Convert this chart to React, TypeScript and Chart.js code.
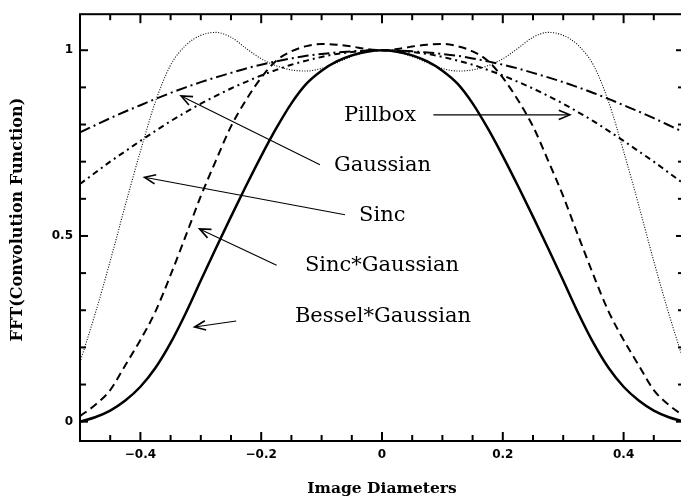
import { useEffect, useRef } from 'react';
import { Chart, registerables } from 'chart.js';
Chart.register(...registerables);

const xValues = [-0.5, -0.475, -0.45, -0.425, -0.4, -0.375, -0.35, -0.325, -0.3, -0.275, -0.25, -0.225, -0.2, -0.175, -0.15, -0.125, -0.1, -0.075, -0.05, -0.025, 0, 0.025, 0.05, 0.075, 0.1, 0.125, 0.15, 0.175, 0.2, 0.225, 0.25, 0.275, 0.3, 0.325, 0.35, 0.375, 0.4, 0.425, 0.45, 0.475, 0.5];

const pillbox = [0.64, 0.67, 0.7, 0.728, 0.756, 0.783, 0.809, 0.833, 0.856, 0.877, 0.897, 0.915, 0.932, 0.947, 0.961, 0.972, 0.982, 0.99, 0.995, 0.999, 1.0, 0.999, 0.995, 0.99, 0.982, 0.972, 0.961, 0.947, 0.932, 0.915, 0.897, 0.877, 0.856, 0.833, 0.809, 0.783, 0.756, 0.728, 0.7, 0.67, 0.64];

const gaussian = [0.779, 0.798, 0.817, 0.835, 0.852, 0.869, 0.885, 0.9, 0.914, 0.927, 0.939, 0.951, 0.961, 0.97, 0.978, 0.985, 0.99, 0.994, 0.997, 0.999, 1.0, 0.999, 0.997, 0.994, 0.99, 0.985, 0.978, 0.97, 0.961, 0.951, 0.939, 0.927, 0.914, 0.9, 0.885, 0.869, 0.852, 0.835, 0.817, 0.798, 0.779];

const sinc = [0.16, 0.29, 0.432, 0.583, 0.728, 0.862, 0.96, 1.013, 1.04, 1.048, 1.035, 1.005, 0.977, 0.958, 0.947, 0.944, 0.951, 0.966, 0.983, 0.995, 1.0, 0.995, 0.983, 0.966, 0.951, 0.944, 0.947, 0.958, 0.977, 1.005, 1.035, 1.048, 1.04, 1.013, 0.96, 0.862, 0.728, 0.583, 0.432, 0.29, 0.16];

const sincGaussian = [0.015, 0.045, 0.085, 0.152, 0.22, 0.297, 0.395, 0.5, 0.607, 0.703, 0.795, 0.866, 0.926, 0.972, 0.997, 1.011, 1.017, 1.015, 1.01, 1.003, 1.0, 1.003, 1.01, 1.015, 1.017, 1.011, 0.997, 0.972, 0.926, 0.866, 0.795, 0.703, 0.607, 0.5, 0.395, 0.297, 0.22, 0.152, 0.085, 0.045, 0.015];

const besselGaussian = [0.0, 0.012, 0.03, 0.057, 0.094, 0.145, 0.212, 0.292, 0.38, 0.467, 0.552, 0.635, 0.715, 0.79, 0.857, 0.91, 0.945, 0.97, 0.986, 0.996, 1.0, 0.996, 0.986, 0.97, 0.945, 0.91, 0.857, 0.79, 0.715, 0.635, 0.552, 0.467, 0.38, 0.292, 0.212, 0.145, 0.094, 0.057, 0.03, 0.012, 0.0];

const xMajorTicks = [-0.4, -0.2, 0, 0.2, 0.4];
const xMinorTicks = [-0.45, -0.35, -0.3, -0.25, -0.15, -0.1, -0.05, 0.05, 0.1, 0.15, 0.25, 0.3, 0.35, 0.45];
const yMajorTicks = [0, 0.5, 1];
const yMinorTicks = [0.1, 0.2, 0.3, 0.4, 0.6, 0.7, 0.8, 0.9];

const xTitle = 'Image Diameters';
const yTitle = 'FFT(Convolution Function)';

// annotation labels: text anchor (left, baseline) and arrow from -> tip, in data coordinates
const annotations = [
  { text: 'Pillbox', tx: -0.063, ty: 0.81, fx: 0.085, fy: 0.826, ax: 0.311, ay: 0.826 },
  { text: 'Gaussian', tx: -0.0795, ty: 0.676, fx: -0.1027, fy: 0.692, ax: -0.3326, ay: 0.877 },
  { text: 'Sinc', tx: -0.038, ty: 0.539, fx: -0.0613, fy: 0.557, ax: -0.3932, ay: 0.658 },
  { text: 'Sinc*Gaussian', tx: -0.1276, ty: 0.405, fx: -0.1745, fy: 0.421, ax: -0.3021, ay: 0.519 },
  { text: 'Bessel*Gaussian', tx: -0.1442, ty: 0.268, fx: -0.2414, fy: 0.271, ax: -0.3103, ay: 0.255 },
];

const toPoints = (ys: number[]) => xValues.map((x, i) => ({ x, y: ys[i] }));

const fmt = (v: number) => {
  if (v === 0) return '0';
  return v < 0 ? '\u2212' + String(Math.abs(v)) : String(v);
};

const framePlugin = {
  id: 'frameTicks',
  afterDatasetsDraw(chart: any) {
    const { ctx, chartArea, scales } = chart;
    const { left, right, top, bottom } = chartArea;
    const x = scales.x;
    const y = scales.y;
    ctx.save();
    ctx.strokeStyle = '#000';
    ctx.lineWidth = 2;
    ctx.lineCap = 'butt';
    ctx.strokeRect(left, top, right - left, bottom - top);
    const seg = (x1: number, y1: number, x2: number, y2: number) => {
      ctx.beginPath();
      ctx.moveTo(x1, y1);
      ctx.lineTo(x2, y2);
      ctx.stroke();
    };
    const xt = (v: number, len: number) => {
      const p = x.getPixelForValue(v);
      seg(p, bottom, p, bottom - len);
      seg(p, top, p, top + len);
    };
    const yt = (v: number, len: number) => {
      const p = y.getPixelForValue(v);
      seg(left, p, left + len, p);
      seg(right, p, right - len, p);
    };
    xMajorTicks.forEach((v) => xt(v, 9));
    xMinorTicks.forEach((v) => xt(v, 6));
    yMajorTicks.forEach((v) => yt(v, 8));
    yMinorTicks.forEach((v) => yt(v, 6));

    // y axis title
    ctx.fillStyle = '#000';
    ctx.save();
    ctx.translate(18, (top + bottom) / 2 - 8);
    ctx.rotate(-Math.PI / 2);
    ctx.font = 'bold 16px "DejaVu Serif"';
    ctx.textAlign = 'center';
    ctx.textBaseline = 'middle';
    ctx.fillText(yTitle, 0, 0);
    ctx.restore();

    // annotations
    ctx.font = '21px "DejaVu Serif"';
    ctx.textAlign = 'left';
    ctx.textBaseline = 'alphabetic';
    annotations.forEach((a) => {
      ctx.fillText(a.text, x.getPixelForValue(a.tx), y.getPixelForValue(a.ty));
      const x1 = x.getPixelForValue(a.fx);
      const y1 = y.getPixelForValue(a.fy);
      const x2 = x.getPixelForValue(a.ax);
      const y2 = y.getPixelForValue(a.ay);
      ctx.lineWidth = 1.1;
      seg(x1, y1, x2, y2);
      const ang = Math.atan2(y1 - y2, x1 - x2);
      const hl = 12;
      const spread = 0.4;
      ctx.lineWidth = 1.6;
      ctx.beginPath();
      ctx.moveTo(x2 + hl * Math.cos(ang + spread), y2 + hl * Math.sin(ang + spread));
      ctx.lineTo(x2, y2);
      ctx.lineTo(x2 + hl * Math.cos(ang - spread), y2 + hl * Math.sin(ang - spread));
      ctx.stroke();
    });
    ctx.restore();
  },
};

export default function App() {
  const ref = useRef<HTMLCanvasElement>(null);
  useEffect(() => {
    const common = {
      borderColor: '#000',
      backgroundColor: '#000',
      pointRadius: 0,
      fill: false,
      cubicInterpolationMode: 'monotone' as const,
    };
    const tickFont = { family: '"DejaVu Sans", sans-serif', size: 12, weight: 'bold' as const };
    const chart = new Chart(ref.current as HTMLCanvasElement, {
      type: 'line',
      data: {
        datasets: [
          { ...common, label: 'Gaussian', data: toPoints(gaussian), borderWidth: 2, borderDash: [11, 4, 2, 4] },
          { ...common, label: 'Pillbox', data: toPoints(pillbox), borderWidth: 2, borderDash: [6, 4, 2, 4] },
          { ...common, label: 'Sinc', data: toPoints(sinc), borderWidth: 1.1, borderDash: [1, 1.6] },
          { ...common, label: 'Sinc*Gaussian', data: toPoints(sincGaussian), borderWidth: 2, borderDash: [8, 5] },
          { ...common, label: 'Bessel*Gaussian', data: toPoints(besselGaussian), borderWidth: 2.5 },
        ],
      },
      options: {
        responsive: false,
        devicePixelRatio: 1,
        animation: false,
        layout: { padding: { top: 13, right: 6, left: 0, bottom: 0 } },
        plugins: { legend: { display: false }, tooltip: { enabled: false } },
        scales: {
          x: {
            type: 'linear',
            min: -0.5,
            max: 0.5,
            grid: { display: false, drawTicks: false },
            border: { display: false },
            afterBuildTicks: (s: any) => {
              s.ticks = xMajorTicks.map((v) => ({ value: v }));
            },
            afterFit: (s: any) => {
              s.height = 59;
            },
            ticks: {
              autoSkip: false,
              maxRotation: 0,
              padding: 7,
              color: '#000',
              font: tickFont,
              callback: (v: any) => fmt(Number(v)),
            },
            title: {
              display: true,
              text: xTitle,
              color: '#000',
              font: { family: '"DejaVu Serif", serif', size: 15.5, weight: 'bold' },
              padding: { top: 0, bottom: 2 },
            },
          },
          y: {
            type: 'linear',
            min: -0.052,
            max: 1.097,
            grid: { display: false, drawTicks: false },
            border: { display: false },
            afterBuildTicks: (s: any) => {
              s.ticks = yMajorTicks.map((v) => ({ value: v }));
            },
            afterFit: (s: any) => {
              s.width = 80;
            },
            ticks: {
              padding: 7,
              color: '#000',
              font: tickFont,
              callback: (v: any) => fmt(Number(v)),
            },
            title: { display: false, text: yTitle },
          },
        },
      },
      plugins: [framePlugin],
    });
    return () => chart.destroy();
  }, []);
  return (
    <div style={{ position: 'fixed', left: 0, top: 0, width: 681, height: 500, overflow: 'hidden', background: '#fff' }}>
      <canvas ref={ref} width={690} height={500} style={{ display: 'block', width: 690, height: 500 }} />
    </div>
  );
}
